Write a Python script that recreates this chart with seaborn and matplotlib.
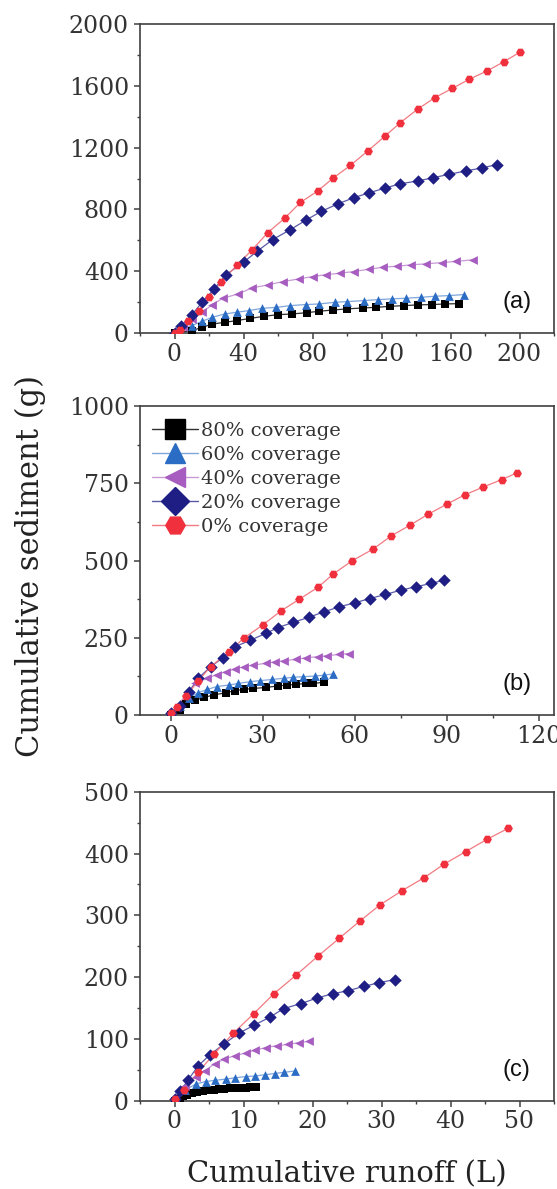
import numpy as np
import pandas as pd
import matplotlib
matplotlib.use("Agg")
import matplotlib.pyplot as plt
from matplotlib.lines import Line2D
from matplotlib.ticker import MultipleLocator
import seaborn as sns

# ---------------- data ----------------
coverages = ["80% coverage", "60% coverage", "40% coverage", "20% coverage", "0% coverage"]
marker_colors = ["#000000", "#2b6cc4", "#a65dbf", "#1e1e85", "#f0303c"]
line_colors = ["#303030", "#7fa6dc", "#c79ad6", "#5a5aa8", "#f27a82"]
marker_shapes = ["s", "^", "<", "D", "H"]

# panel (a)
a_x80 = [0, 10, 16, 22, 29, 36, 44, 52, 60, 68, 77, 84, 92, 100, 109, 117, 125, 133, 141, 149, 157, 165]
a_y80 = [0, 15, 37, 58, 69, 80, 95, 108, 119, 123, 132, 141, 149, 156, 162, 166, 173, 177, 182, 184, 188, 190]
a_x60 = [0, 10, 16, 22, 29, 36, 43, 51, 59, 67, 76, 84, 93, 100, 110, 118, 126, 134, 143, 151, 159, 168]
a_y60 = [0, 48, 76, 102, 123, 134, 145, 160, 166, 177, 184, 188, 199, 203, 210, 216, 221, 225, 231, 238, 242, 249]
a_x40 = [0, 5, 10, 16, 22, 28, 37, 45, 54, 63, 72, 80, 88, 96, 104, 113, 121, 129, 137, 146, 155, 163, 173]
a_y40 = [0, 37, 91, 134, 184, 225, 253, 292, 311, 333, 350, 365, 378, 387, 398, 413, 426, 432, 441, 448, 456, 463, 474]
a_x20 = [0, 4, 10, 16, 23, 30, 40, 48, 57, 67, 76, 85, 95, 104, 113, 122, 131, 141, 150, 159, 169, 178, 187]
a_y20 = [0, 48, 117, 199, 285, 378, 458, 530, 605, 668, 729, 787, 837, 876, 908, 938, 966, 984, 1005, 1027, 1049, 1068, 1090]
a_x0 = [0, 3, 8, 14, 20, 27, 36, 45, 54, 64, 73, 83, 92, 102, 112, 122, 131, 141, 151, 161, 171, 181, 191, 200]
a_y0 = [0, 19, 76, 145, 231, 329, 437, 538, 649, 744, 845, 919, 1003, 1085, 1178, 1274, 1362, 1449, 1524, 1583, 1643, 1695, 1756, 1816]

# panel (b)
b_x80 = [0, 3, 5, 8, 11, 14, 18, 21, 24, 27, 31, 35, 38, 41, 44, 46.5, 50]
b_y80 = [0, 16, 34, 48, 57, 65, 72, 79, 83, 86, 89, 94, 97, 99, 102, 102, 106]
b_x60 = [0, 3, 6, 9, 12, 15, 19, 22, 26, 29, 33, 37, 40, 43, 47, 50, 53]
b_y60 = [0, 29, 56, 72, 83, 92, 97, 102, 108, 111, 115, 119, 122, 124, 126, 129, 133]
b_x40 = [0, 2, 5, 8, 12, 15, 18, 21, 24, 27, 31, 34, 37, 41, 44, 48, 51, 55, 58]
b_y40 = [0, 27, 65, 102, 119, 131, 140, 149, 156, 162, 167, 172, 176, 180, 185, 189, 192, 196, 199]
b_x20 = [0, 3, 6, 9, 13, 17, 21, 26, 31, 35, 40, 45, 50, 55, 60, 65, 70, 75, 80, 85, 89]
b_y20 = [5, 29, 75, 119, 156, 185, 221, 242, 264, 283, 300, 316, 334, 350, 363, 377, 390, 404, 415, 426, 436]
b_x0 = [0, 2, 5, 9, 13, 19, 24, 30, 36, 42, 48, 53, 59, 66, 72, 78, 84, 90, 96, 102, 108, 113]
b_y0 = [5, 25, 62, 110, 156, 205, 250, 291, 337, 375, 413, 456, 498, 537, 580, 614, 650, 682, 713, 738, 762, 784]

# panel (c)
c_x80 = [0, 0.8, 1.3, 1.8, 2.6, 3.3, 4.1, 4.9, 5.7, 6.4, 7.2, 8.0, 8.7, 9.5, 10.3, 11.0, 11.8]
c_y80 = [0, 3, 8, 10, 13, 14.5, 16, 17, 18, 19, 19.4, 20, 20.4, 21, 21, 21.5, 21.5]
c_x60 = [0, 1.5, 3.1, 4.5, 5.9, 7.5, 8.7, 10.3, 11.7, 13.1, 14.5, 15.9, 17.4]
c_y60 = [0, 17, 27, 31, 33, 35, 37, 39, 40, 42, 44, 46, 48]
c_x40 = [0, 1.5, 3.1, 4.4, 5.8, 7.2, 8.7, 10.3, 11.7, 13.3, 14.8, 16.5, 18.0, 19.5]
c_y40 = [3, 23, 39, 48, 60, 67, 73, 77, 82, 86, 89, 91, 94, 96]
c_x20 = [0, 0.8, 2.0, 3.4, 5.1, 7.2, 9.3, 11.5, 13.8, 15.8, 18.3, 20.6, 22.9, 25.2, 27.4, 29.7, 31.9]
c_y20 = [3, 15, 34, 56, 74, 92, 109, 122, 135, 149, 157, 166, 173, 178, 185, 191, 196]
c_x0 = [0, 1.4, 3.4, 5.7, 8.5, 11.5, 14.4, 17.6, 20.8, 23.9, 26.9, 29.8, 33.0, 36.2, 39.1, 42.2, 45.3, 48.4]
c_y0 = [3, 18, 46, 75, 109, 141, 173, 203, 234, 263, 291, 317, 340, 361, 383, 403, 423, 441]

panels = [
    ("(a)", [(a_x80, a_y80), (a_x60, a_y60), (a_x40, a_y40), (a_x20, a_y20), (a_x0, a_y0)],
     (-20, 220), 40, (0, 2000), 400),
    ("(b)", [(b_x80, b_y80), (b_x60, b_y60), (b_x40, b_y40), (b_x20, b_y20), (b_x0, b_y0)],
     (-10, 125), 30, (0, 1000), 250),
    ("(c)", [(c_x80, c_y80), (c_x60, c_y60), (c_x40, c_y40), (c_x20, c_y20), (c_x0, c_y0)],
     (-5, 55), 10, (0, 500), 100),
]

# ---------------- style ----------------
sns.set_theme(style="ticks")
plt.rcParams["font.family"] = ["DejaVu Serif"]
plt.rcParams["axes.edgecolor"] = "#404040"
plt.rcParams["axes.linewidth"] = 1.2

fig = plt.figure(figsize=(5.57, 11.89), dpi=100)
left, width, height = 140 / 557, 414 / 557, 309 / 1189
bottoms = [1 - 333 / 1189, 1 - 715 / 1189, 1 - 1100.7 / 1189]

pal_m = dict(zip(coverages, marker_colors))
pal_l = dict(zip(coverages, line_colors))
mk = dict(zip(coverages, marker_shapes))

for (tag, series, xlim, xstep, ylim, ystep), bot in zip(panels, bottoms):
    ax = fig.add_axes([left, bot, width, height])
    rows = []
    for cov, (xs, ys) in zip(coverages, series):
        for x, y in zip(xs, ys):
            rows.append((cov, x, y))
    df = pd.DataFrame(rows, columns=["coverage", "runoff", "sediment"])
    for cov in coverages:
        sub = df[df["coverage"] == cov]
        sns.lineplot(data=sub, x="runoff", y="sediment", color=pal_l[cov], linewidth=0.9,
                     sort=False, estimator=None, ax=ax, legend=False, zorder=2)
        sns.scatterplot(data=sub, x="runoff", y="sediment", color=pal_m[cov], marker=mk[cov],
                        s=40, linewidth=0, ax=ax, legend=False, zorder=3)
    ax.set_xlim(*xlim)
    ax.set_ylim(*ylim)
    ax.xaxis.set_major_locator(MultipleLocator(xstep))
    ax.xaxis.set_minor_locator(MultipleLocator(xstep / 2))
    ax.yaxis.set_major_locator(MultipleLocator(ystep))
    ax.yaxis.set_minor_locator(MultipleLocator(ystep / 2))
    ax.tick_params(which="major", direction="out", length=4, width=1.1, color="#404040",
                   labelsize=17, labelcolor="#333333", pad=4)
    ax.tick_params(which="minor", direction="out", length=2.5, width=1.0, color="#404040")
    ax.tick_params(axis="x", which="major", pad=3)
    ax.set_xlabel("")
    ax.set_ylabel("")
    for sp in ax.spines.values():
        sp.set_visible(True)
    ax.text(0.91, 0.10, tag, transform=ax.transAxes, ha="center", va="center",
            fontsize=17, family=["Liberation Sans", "DejaVu Sans"], color="#111111")
    if tag == "(b)":
        handles = [Line2D([0], [0], color=pal_l[c], lw=1.0, marker=mk[c], markersize=14,
                          markerfacecolor=pal_m[c], markeredgecolor=pal_m[c])
                   for c in coverages]
        leg = ax.legend(handles, coverages, loc="upper left", frameon=False, fontsize=14,
                        handlelength=2.4, handletextpad=0.15, labelspacing=0.3,
                        borderaxespad=0.2, bbox_to_anchor=(0.0, 0.985))
        for t in leg.get_texts():
            t.set_color("#333333")

fig.text(0.055, 0.524, "Cumulative sediment (g)", rotation=90, ha="center", va="center",
         fontsize=22, color="#222222")
fig.text(347 / 557, 1 - 1174 / 1189, "Cumulative runoff (L)", ha="center", va="center",
         fontsize=21, color="#222222")

fig.savefig("out.png", dpi=100)
